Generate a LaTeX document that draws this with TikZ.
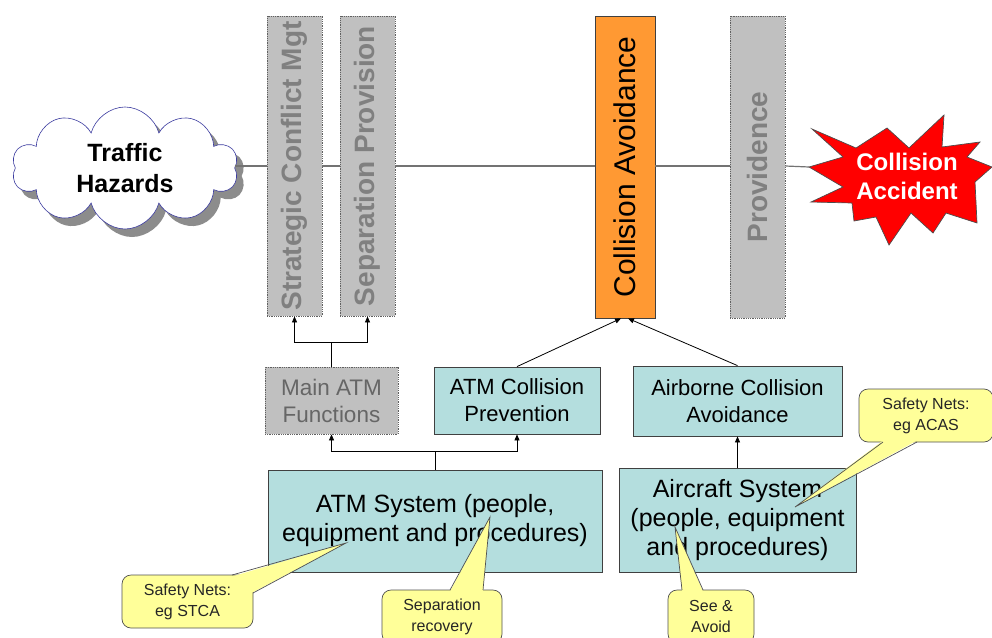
\documentclass[tikz,border=0pt]{standalone}
\usepackage{fontspec}
\setmainfont{Liberation Sans}
\usetikzlibrary{shapes.symbols,arrows.meta}
\definecolor{barGray}{RGB}{192,192,192}
\definecolor{barText}{RGB}{128,128,128}
\definecolor{barEdge}{RGB}{96,96,96}
\definecolor{caOrange}{RGB}{255,153,51}
\definecolor{sysTeal}{RGB}{180,222,222}
\definecolor{noteYellow}{RGB}{255,255,153}
\definecolor{noteEdge}{RGB}{80,80,80}
\definecolor{cloudEdge}{RGB}{60,60,160}
\definecolor{boxEdge}{RGB}{64,64,64}
\begin{document}
\begin{tikzpicture}[x=1pt,y=-1pt,
  barbox/.style={draw=barEdge,densely dotted,line width=0.8pt,fill=barGray,
    inner sep=0pt,text=barText,font=\fontsize{28}{32}\selectfont\bfseries},
  orangebox/.style={draw=boxEdge,line width=0.8pt,fill=caOrange,inner sep=0pt,
    font=\fontsize{30}{34}\selectfont},
  grayfn/.style={draw=barEdge,densely dotted,line width=0.8pt,fill=barGray,
    inner sep=0pt,align=center,text=black!60,font=\fontsize{22.5}{27}\selectfont},
  tealbox/.style={draw=boxEdge,line width=0.8pt,fill=sysTeal,inner sep=0pt,
    align=center,font=\fontsize{22}{27}\selectfont},
  sysbox/.style={tealbox,font=\fontsize{25}{29}\selectfont},
  notebox/.style={draw=noteEdge,line width=0.7pt,fill=noteYellow,rounded corners=9pt,
    inner sep=0pt,align=center,text=black!85,font=\fontsize{16}{21}\selectfont},
  notefill/.style={fill=noteYellow},
  noteline/.style={draw=noteEdge,line width=0.7pt},
  arr/.style={-{Triangle[length=6pt,width=5pt]},line width=0.8pt,black},
  hline/.style={draw=black!55,line width=1.2pt}]
\useasboundingbox (0,0) rectangle (992,637);
\clip (0,0) rectangle (992,637);

% the threat source
\node[cloud,cloud puffs=10,aspect=1.85,minimum width=226pt,minimum height=122pt,
  fill=black!45,inner sep=0pt] (cloudshadow) at (132,176) {};
\node[cloud,cloud puffs=10,aspect=1.85,minimum width=226pt,minimum height=122pt,
  draw=cloudEdge,line width=0.6pt,fill=white,inner sep=0pt,align=center,
  font=\fontsize{25}{31}\selectfont\bfseries] (cloud) at (125,168) {Traffic\\Hazards};

% the barrier layers
\node[barbox,minimum width=55pt,minimum height=300pt] (bar1) at (294.5,166)
  {\rotatebox{90}{Strategic Conflict Mgt}};
\node[barbox,minimum width=55pt,minimum height=300pt] (bar2) at (367.5,166)
  {\rotatebox{90}{Separation Provision}};
\node[orangebox,minimum width=60pt,minimum height=302pt] (cav) at (625,167)
  {\rotatebox{90}{Collision Avoidance}};
\node[barbox,minimum width=55pt,minimum height=302pt] (prov) at (757.5,167)
  {\rotatebox{90}{Providence}};

% the outcome
\draw[draw=black!70,line width=0.7pt,fill=red]
  (812,129) -- (856,148) -- (887,128) -- (909,148) -- (944,115) -- (942,147)
  -- (980,142) -- (967,157) -- (992,167) -- (975,182) -- (977,223) -- (946,213)
  -- (933,233) -- (911,213) -- (889,245) -- (876,217) -- (854,221) -- (852,203)
  -- (811,202) -- (843,187) -- (809,167) -- (843,157) -- cycle;
\coordinate (acctip) at (809,167);
\node[text=white,align=center,font=\fontsize{24}{29}\selectfont\bfseries] (acc)
  at (907,176) {Collision\\Accident};

% the main sequence line
\coordinate (hl) at (0,166);
\draw[hline] (cloud.east |- hl) -- (bar1.west |- hl);
\draw[hline] (bar1.east |- hl) -- (bar2.west |- hl);
\draw[hline] (bar2.east |- hl) -- (cav.west |- hl);
\draw[hline] (cav.east |- hl) -- (prov.west |- hl);
\draw[hline] (prov.east |- hl) -- (acctip);

% functions
\node[grayfn,minimum width=133pt,minimum height=67pt] (mainfn) at (331.5,400.5)
  {Main ATM\\Functions};
\node[tealbox,minimum width=166pt,minimum height=67pt] (cprev) at (517,400.5)
  {ATM Collision\\Prevention};
\node[tealbox,minimum width=209pt,minimum height=70pt] (airb) at (737.5,401)
  {Airborne Collision\\Avoidance};

% systems
\node[sysbox,minimum width=334pt,minimum height=102pt] (atms) at (435,521)
  {ATM System (people,\\equipment and procedures)};
\node[sysbox,minimum width=237pt,minimum height=104pt] (acs) at (737.5,520)
  {Aircraft System\\(people, equipment\\and procedures)};

% links
\draw[arr] (mainfn.north) -- ++(0,-24) -| (bar1.south);
\draw[arr] (mainfn.north) -- ++(0,-24) -| (bar2.south);
\draw[arr] (cprev.north) -- ([xshift=-4pt]cav.south);
\draw[arr] (airb.north) -- ([xshift=3pt]cav.south);
\draw[arr] (atms.north) -- ++(0,-18) -| (mainfn.south);
\draw[arr] (atms.north) -- ++(0,-18) -| (cprev.south);
\draw[arr] (acs.north) -- (airb.south);

% notes
\node[notebox,minimum width=131pt,minimum height=53pt] (stca) at (187.5,601.5)
  {Safety Nets:\\eg STCA};
\coordinate (stcatip) at (346,543);
\fill[notefill] (232,576.5) -- (stcatip) -- (251.5,593) -- (242,586) -- cycle;
\draw[noteline] (232,575) -- (stcatip) -- (253,593);

\node[notebox,minimum width=120pt,minimum height=53pt] (seprec) at (442,616.5)
  {Separation\\recovery};
\coordinate (seprectip) at (490,517);
\fill[notefill] (450,591.5) -- (seprectip) -- (483,591.5) -- (466,600) -- cycle;
\draw[noteline] (450,590) -- (seprectip) -- (483,590);

\node[notebox,minimum width=86pt,minimum height=53pt] (seeav) at (711,616.5)
  {See \&\\Avoid};
\coordinate (seeavtip) at (675,527);
\fill[notefill] (682,591.5) -- (seeavtip) -- (703,591.5) -- (692,600) -- cycle;
\draw[noteline] (682,590) -- (seeavtip) -- (703,590);

\node[notebox,minimum width=134pt,minimum height=53pt] (acas) at (926,415.5)
  {Safety Nets:\\eg ACAS};
\coordinate (acastip) at (795,507);
\fill[notefill] (883,440.5) -- (acastip) -- (917,440.5) -- (900,432) -- cycle;
\draw[noteline] (883,442) -- (acastip) -- (917,442);
\end{tikzpicture}
\end{document}
